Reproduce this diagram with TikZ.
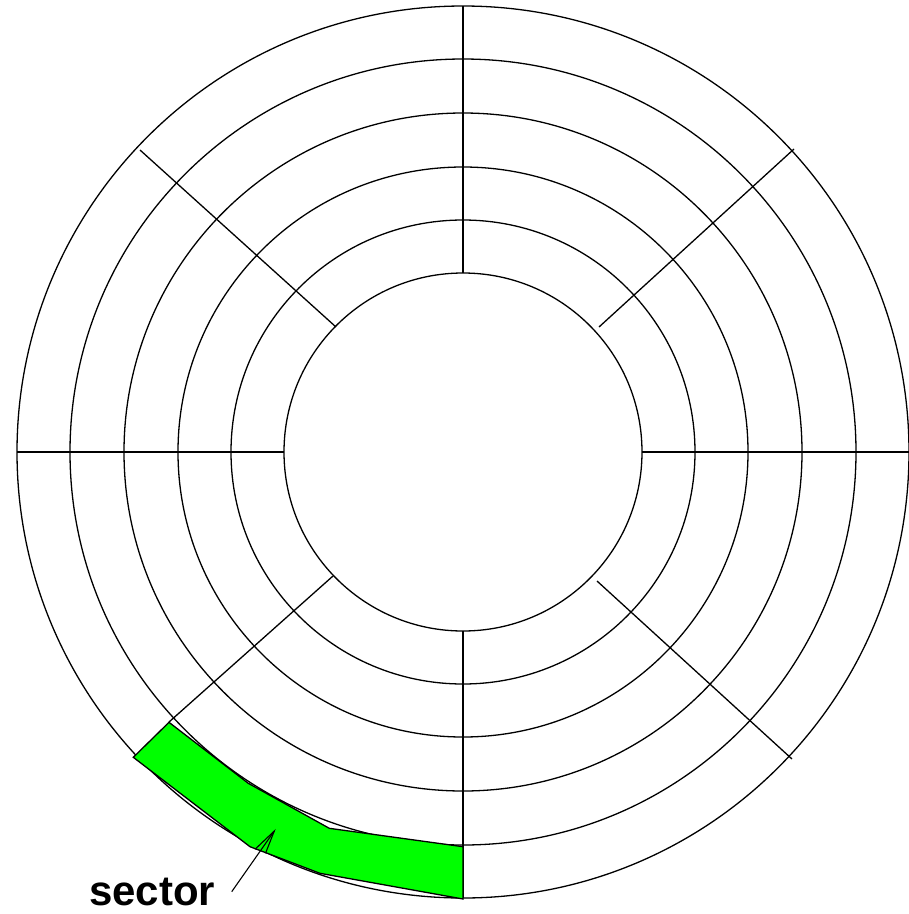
\documentclass[tikz,border=0pt]{standalone}
\usepackage{fontspec}
\setmainfont{Liberation Sans}
\definecolor{sectorgreen}{RGB}{0,255,0}
\begin{document}
\begin{tikzpicture}[x=1pt,y=-1pt,
  ring/.style={draw=black,line width=1.3pt},
  spoke/.style={draw=black,line width=1.3pt},
  sectorfill/.style={fill=sectorgreen,draw=black,line width=1.3pt,line join=miter},
  pointer/.style={draw=black,line width=1.1pt},
  labeltext/.style={font=\fontsize{42}{50}\selectfont\bfseries,inner sep=0pt,anchor=base west}]
\useasboundingbox (0,0) rectangle (909,914);
\coordinate (c) at (463,452);
% rings
\foreach \r in {446,393,339,285,232,179}
  \draw[ring] (c) circle[radius=\r];
% spokes
\coordinate (t1) at (463,6);   \coordinate (t2) at (463,273);
\coordinate (b1) at (463,631); \coordinate (b2) at (463,898);
\coordinate (l1) at (17,452);  \coordinate (l2) at (284,452);
\coordinate (r1) at (642,452); \coordinate (r2) at (909,452);
\coordinate (ul1) at (140,150); \coordinate (ul2) at (336,327);
\coordinate (ur1) at (794,149); \coordinate (ur2) at (599,327);
\coordinate (lr1) at (597,581); \coordinate (lr2) at (792,759);
\coordinate (ll1) at (333,576); \coordinate (ll2) at (169,722);
\draw[spoke] (t1) -- (t2);
\draw[spoke] (b1) -- (b2);
\draw[spoke] (l1) -- (l2);
\draw[spoke] (r1) -- (r2);
\draw[spoke] (ul1) -- (ul2);
\draw[spoke] (ur1) -- (ur2);
\draw[spoke] (lr1) -- (lr2);
\draw[spoke] (ll1) -- (ll2);
% sector
\draw[sectorfill] (133.3,757.3) -- (169,722.3) -- (248.3,783.3) -- (329.3,828.3)
  -- (463,846.7) -- (463,899) -- (320,873.3) -- (250,846.7) -- cycle;
% label
\node[labeltext] (lab) at (89,905) {sector};
\coordinate (tail) at (231.7,891.7);
\coordinate (tip) at (274.3,831);
\coordinate (barbA) at (255,849.3);
\coordinate (barbB) at (265.5,853.3);
\draw[pointer] (tail) -- (tip);
\draw[pointer,line join=miter] (barbA) -- (tip) -- (barbB);
\end{tikzpicture}
\end{document}
